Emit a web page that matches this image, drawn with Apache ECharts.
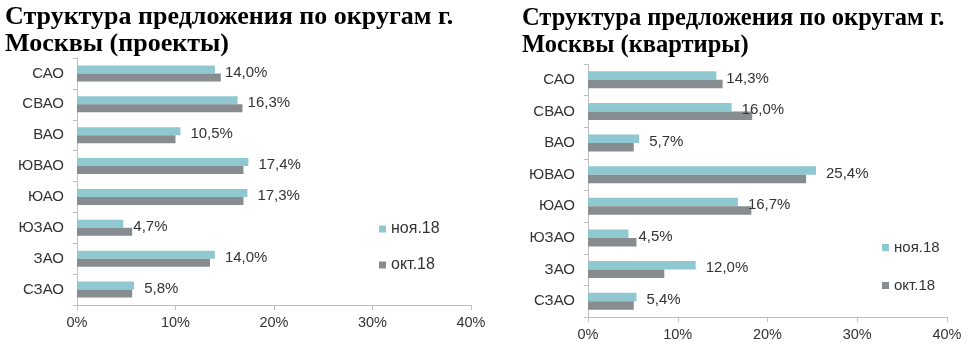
<!DOCTYPE html>
<html><head><meta charset="utf-8">
<script src="https://cdn.jsdelivr.net/npm/echarts@6/dist/echarts.min.js"></script>
<style>html,body{margin:0;padding:0;background:#fff}#c{width:974px;height:358px}</style>
</head><body><div id="c"></div>
<script>
var categories = ['САО','СВАО','ВАО','ЮВАО','ЮАО','ЮЗАО','ЗАО','СЗАО'];
var xTicks = [0,10,20,30,40];
var projNov = [14.0,16.3,10.5,17.4,17.3,4.7,14.0,5.8];
var projOct = [14.6,16.8,10.0,16.9,16.9,5.6,13.5,5.6];
var flatNov = [14.3,16.0,5.7,25.4,16.7,4.5,12.0,5.4];
var flatOct = [15.0,18.3,5.1,24.3,18.2,5.4,8.5,5.1];
var seriesNames = ['ноя.18','окт.18'];
var titles = ['Структура предложения по округам г.\nМосквы (проекты)','Структура предложения по округам г.\nМосквы (квартиры)'];

var cNov = '#8FC8D0', cOct = '#878C91', axisC = '#BFBFBF', txt = '#333333';
var chart = echarts.init(document.getElementById('c'));
function fmt(p){ return p.value.toFixed(1).replace('.', ',') + '%'; }
function xAxis(i){
  return {gridIndex:i, type:'value', min:xTicks[0], max:xTicks[xTicks.length-1], interval:10,
    splitLine:{show:false}, axisLine:{show:true,lineStyle:{color:axisC}},
    axisTick:{show:true,length:5,lineStyle:{color:axisC}},
    axisLabel:{formatter:'{value}%', fontFamily:'Liberation Sans', fontSize:14.5, color:txt, margin:10}};
}
function yAxis(i){
  return {gridIndex:i, type:'category', data:categories, inverse:true,
    axisLine:{show:true,lineStyle:{color:axisC}},
    axisTick:{show:true,length:4,lineStyle:{color:axisC}},
    axisLabel:{fontFamily:'Liberation Sans', fontSize:15, color:txt, margin:13}};
}
function bar(name, data, i, color, lab, w){
  return {name:name, type:'bar', xAxisIndex:i, yAxisIndex:i, data:data, barWidth:w, barGap:'0%',
    itemStyle:{color:color}, animation:false,
    label:{show:lab, position:'right', distance:10, offset:[0,3], formatter:fmt,
      fontFamily:'Liberation Sans', fontSize:15, color:txt}};
}
chart.setOption({
  animation:false,
  title:[
    {text:titles[0], left:0, top:-1, textStyle:{fontFamily:'Liberation Serif', fontWeight:'bold', fontSize:26, lineHeight:27, color:'#000'}},
    {text:titles[1], left:517, top:0, textStyle:{fontFamily:'Liberation Serif', fontWeight:'bold', fontSize:24.5, lineHeight:27, color:'#000'}}
  ],
  legend:[
    {data:seriesNames, orient:'vertical', left:374, top:216, itemWidth:7, itemHeight:7, icon:'rect', itemGap:20, itemTextGap:3,
     textStyle:{fontFamily:'Liberation Sans', fontSize:16, color:txt}},
    {data:seriesNames, orient:'vertical', left:877, top:235, itemWidth:7, itemHeight:7, icon:'rect', itemGap:23, itemTextGap:3,
     textStyle:{fontFamily:'Liberation Sans', fontSize:15, color:txt}}
  ],
  grid:[
    {left:77, top:58, width:394, height:247},
    {left:588, top:64, width:359, height:253}
  ],
  xAxis:[xAxis(0), xAxis(1)],
  yAxis:[yAxis(0), yAxis(1)],
  series:[
    bar(seriesNames[0], projNov, 0, cNov, true, 8),
    bar(seriesNames[1], projOct, 0, cOct, false, 8),
    bar(seriesNames[0], flatNov, 1, cNov, true, 8.5),
    bar(seriesNames[1], flatOct, 1, cOct, false, 8.5)
  ]
});
</script></body></html>
